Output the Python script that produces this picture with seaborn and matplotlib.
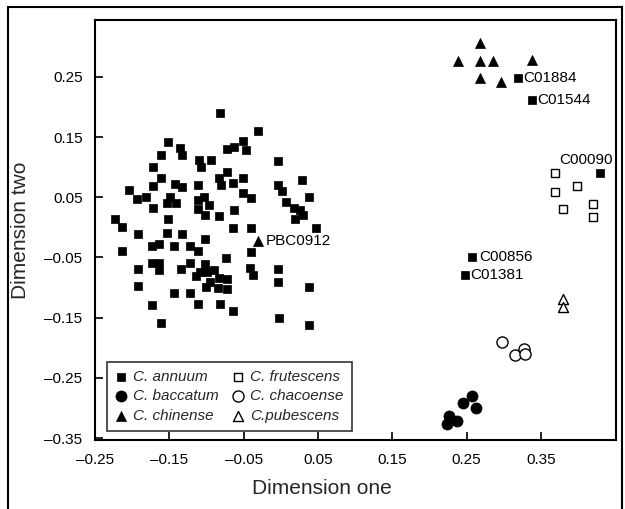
import matplotlib
matplotlib.use("Agg")
import matplotlib.pyplot as plt
import seaborn as sns
import pandas as pd
from matplotlib.patches import Rectangle

# ---------------- data ----------------
annuum_x = [-0.082, -0.031, -0.152, -0.051, -0.136, -0.072, -0.063, -0.047, -0.133, -0.161,
            -0.110, -0.094, -0.107, -0.004, -0.172, -0.072, -0.161, -0.083, -0.051, 0.029,
            -0.172, -0.142, -0.133, -0.111, -0.080, -0.064, -0.004, 0.002, -0.204, -0.051,
            -0.040, -0.193, -0.181, -0.149, -0.153, -0.141, -0.111, -0.103, -0.111, -0.097,
            0.038, -0.172, -0.063, 0.007, 0.018, 0.026, 0.030, 0.019, -0.223, -0.214,
            -0.152, -0.102, -0.083, -0.192, -0.153, -0.133, -0.102, -0.214, -0.173, -0.164,
            -0.144, -0.122, -0.111, -0.173, -0.164, -0.164, -0.134, -0.122, -0.102, -0.114,
            -0.109, -0.099, -0.090, -0.083, -0.072, -0.101, -0.084, -0.072, -0.095, -0.192,
            -0.192, -0.144, -0.122, -0.173, -0.111, -0.161, -0.064, -0.040, 0.047, -0.040,
            -0.074, -0.041, -0.037, -0.004, -0.004, 0.038, -0.082, -0.064, -0.002, 0.038,
            0.319, 0.338, 0.429, 0.257, 0.248]
annuum_y = [0.190, 0.160, 0.142, 0.144, 0.132, 0.130, 0.134, 0.129, 0.120, 0.120,
            0.112, 0.112, 0.100, 0.110, 0.100, 0.092, 0.082, 0.082, 0.082, 0.079,
            0.069, 0.072, 0.067, 0.070, 0.070, 0.074, 0.070, 0.060, 0.062, 0.057,
            0.049, 0.047, 0.051, 0.051, 0.041, 0.041, 0.046, 0.051, 0.031, 0.037,
            0.051, 0.032, 0.029, 0.042, 0.032, 0.029, 0.021, 0.014, 0.014, 0.001,
            0.014, 0.021, 0.019, -0.011, -0.009, -0.011, -0.019, -0.039, -0.031, -0.028,
            -0.031, -0.031, -0.039, -0.059, -0.059, -0.071, -0.069, -0.059, -0.061, -0.081,
            -0.074, -0.074, -0.071, -0.084, -0.086, -0.099, -0.101, -0.102, -0.091, -0.069,
            -0.097, -0.109, -0.109, -0.129, -0.127, -0.159, -0.001, -0.001, -0.001, -0.041,
            -0.051, -0.067, -0.079, -0.069, -0.091, -0.099, -0.127, -0.139, -0.151, -0.162,
            0.248, 0.212, 0.090, -0.049, -0.079]

baccatum_x = [0.257, 0.245, 0.263, 0.226, 0.237, 0.224]
baccatum_y = [-0.280, -0.292, -0.300, -0.313, -0.322, -0.327]

chinense_x = [0.268, 0.238, 0.268, 0.285, 0.338, 0.268, 0.296, -0.031]
chinense_y = [0.306, 0.277, 0.277, 0.277, 0.278, 0.248, 0.242, -0.023]

frutescens_x = [0.369, 0.398, 0.369, 0.380, 0.420, 0.420]
frutescens_y = [0.090, 0.069, 0.059, 0.031, 0.039, 0.017]

chacoense_x = [0.298, 0.315, 0.327, 0.329]
chacoense_y = [-0.190, -0.212, -0.202, -0.210]

pubescens_x = [0.380, 0.380]
pubescens_y = [-0.119, -0.132]

species_labels = ["C. annuum", "C. baccatum", "C. chinense",
                  "C. frutescens", "C. chacoense", "C.pubescens"]

# accession labels: (name, species, index within that species' arrays)
acc_names = ["C01884", "C01544", "C00090", "C00856", "C01381", "PBC0912"]
acc_species = ["C. annuum", "C. annuum", "C. annuum", "C. annuum", "C. annuum", "C. chinense"]
acc_index = [100, 101, 102, 103, 104, 7]

xtick_vals = [-0.25, -0.15, -0.05, 0.05, 0.15, 0.25, 0.35]
xtick_labels = ["\u20130.25", "\u20130.15", "\u20130.05", "0.05", "0.15", "0.25", "0.35"]
ytick_vals = [-0.35, -0.25, -0.15, -0.05, 0.05, 0.15, 0.25]
ytick_labels = ["\u20130.35", "\u20130.25", "\u20130.15", "\u20130.05", "0.05", "0.15", "0.25"]

# ---------------- frame ----------------
frames = []
for lab, xs, ys in zip(species_labels,
                       [annuum_x, baccatum_x, chinense_x, frutescens_x, chacoense_x, pubescens_x],
                       [annuum_y, baccatum_y, chinense_y, frutescens_y, chacoense_y, pubescens_y]):
    frames.append(pd.DataFrame({"x": xs, "y": ys, "species": lab}))
df = pd.concat(frames, ignore_index=True)

sns.set_theme(style="white")
plt.rcParams['font.family'] = ['Liberation Sans', 'DejaVu Sans']

W, H = 625, 509
fig = plt.figure(figsize=(W / 100, H / 100), dpi=100)
ax = fig.add_axes([95 / W, 1 - 440 / H, (616 - 95) / W, (440 - 20) / H])

styles = {
    "C. annuum":     dict(marker="s", s=34, color="black", edgecolor="black", linewidth=0.5),
    "C. baccatum":   dict(marker="o", s=64, color="black", edgecolor="black", linewidth=0.5),
    "C. chinense":   dict(marker="^", s=52, color="black", edgecolor="black", linewidth=0.5),
    "C. frutescens": dict(marker="s", s=34, color="white", edgecolor="black", linewidth=1.0),
    "C. chacoense":  dict(marker="o", s=64, color="white", edgecolor="black", linewidth=1.0),
    "C.pubescens":   dict(marker="^", s=52, color="white", edgecolor="black", linewidth=1.0),
}

handles = []
for lab in species_labels:
    sub = df[df["species"] == lab]
    sns.scatterplot(data=sub, x="x", y="y", ax=ax, legend=False, zorder=3, **styles[lab])
    coll = ax.collections[-1]
    coll.set_label(lab)
    handles.append(coll)

ax.set_xlim(-0.25, 0.451)
ax.set_ylim(-0.3533, 0.3447)
ax.set_xticks(xtick_vals, xtick_labels)
ax.set_yticks(ytick_vals, ytick_labels)
ax.tick_params(direction="in", length=6, width=1.2, pad=9, labelsize=11,
               bottom=True, left=True, colors="black")
for sp in ax.spines.values():
    sp.set_color("black")
    sp.set_linewidth(1.5)

ax.set_xlabel("Dimension one", fontsize=15, labelpad=9)
ax.set_ylabel("Dimension two", fontsize=15, labelpad=10)
ax.xaxis.label.set_x(0.436)

# accession annotations
offsets = {"C01884": (4, 0, "left"), "C01544": (4, 0, "left"), "C00856": (5, 0, "left"),
           "C01381": (4, 0, "left"), "PBC0912": (6, 0, "left"), "C00090": (-10, 9.5, "center")}
for name, spn, idx in zip(acc_names, acc_species, acc_index):
    sub = df[df["species"] == spn].reset_index(drop=True)
    px, py = sub.loc[idx, "x"], sub.loc[idx, "y"]
    dx, dy, ha = offsets[name]
    ax.annotate(name, (px, py), xytext=(dx, dy), textcoords="offset points",
                ha=ha, va="center", fontsize=11, color="black")

leg = ax.legend(handles=handles, labels=species_labels, ncol=2, loc="lower left",
                bbox_to_anchor=(0.023, 0.021), borderaxespad=0, frameon=True,
                fancybox=False, edgecolor="black", handlelength=0.7, handletextpad=0.45,
                columnspacing=0.9, labelspacing=0.35, borderpad=0.55,
                prop={"style": "italic", "size": 11})
leg.get_frame().set_linewidth(1.2)
leg.get_frame().set_facecolor("white")

# outer figure frame (cut off at the bottom, as in the reference)
fig.add_artist(Rectangle((8 / W, -0.1), (622 - 8) / W, 1 - 7 / H + 0.1,
                         transform=fig.transFigure, fill=False, lw=1.5, ec="black"))

fig.savefig("out.png", dpi=100)
